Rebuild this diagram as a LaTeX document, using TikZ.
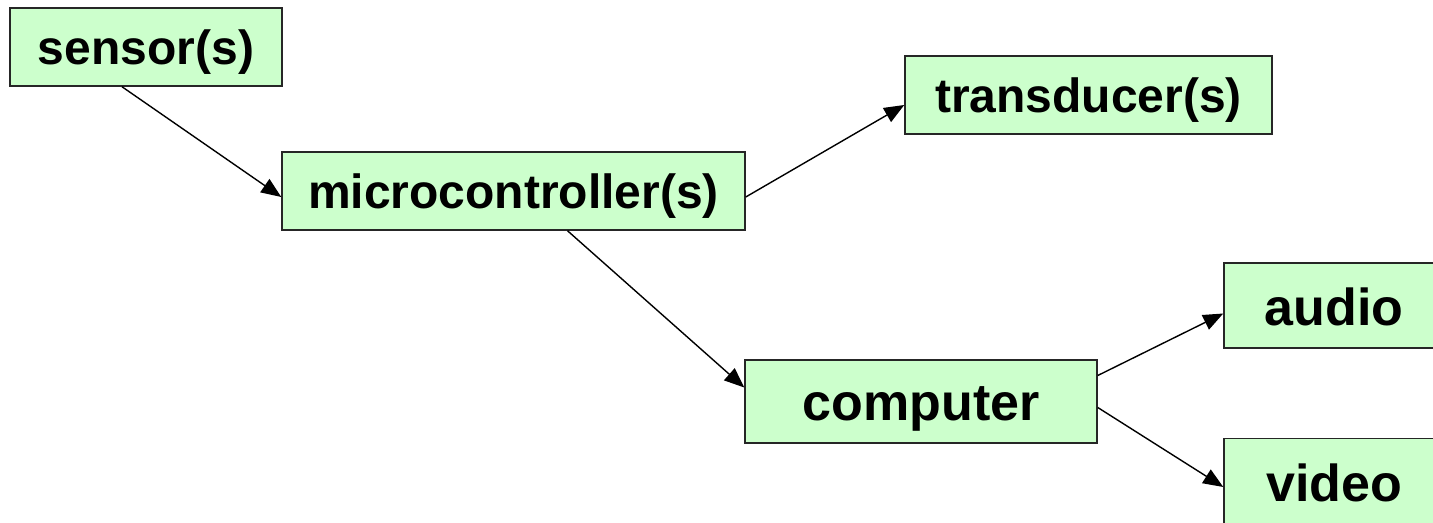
\documentclass[tikz,border=0pt]{standalone}
\usepackage{fontspec}
\setmainfont{Liberation Sans}
\usetikzlibrary{arrows.meta}
\definecolor{boxgreen}{HTML}{CCFFCC}
\begin{document}
\begin{tikzpicture}[x=0.5pt,y=-0.5pt,
  box/.style={draw=black!85,line width=0.75pt,fill=boxgreen,inner sep=0pt,
    font=\bfseries\fontsize{24}{28}\selectfont,text height=18pt,text depth=0pt},
  big/.style={font=\bfseries\fontsize{26}{30}\selectfont},
  conn/.style={draw=black,line width=0.7pt,-{Triangle[length=10pt,width=8pt]}}]
\useasboundingbox (0,0) rectangle (1433,523);
\node[box,minimum width=136pt,minimum height=39pt] (sensor) at (146,47) {sensor(s)};
\node[box,minimum width=231.5pt,minimum height=39pt] (micro) at (513.5,191) {microcontroller(s)};
\node[box,minimum width=183.5pt,minimum height=39pt] (trans) at (1088.5,95) {transducer(s)};
\node[box,big,text height=18.5pt,minimum width=176pt,minimum height=41.5pt] (comp) at (921,401.5) {computer};
\node[box,big,text height=20pt,minimum width=110pt,minimum height=42.5pt] (audio) at (1334,305.5) {audio};
\node[box,big,text height=20pt,minimum width=110pt,minimum height=42.5pt] (video) at (1334,481) {video};
\draw[conn] ([xshift=-12pt]sensor.south) -- ([yshift=-3pt]micro.west);
\draw[conn] ([yshift=-3pt]micro.east) -- ([yshift=-5pt]trans.west);
\draw[conn] ([xshift=27pt]micro.south) -- ([yshift=7pt]comp.west);
\draw[conn] ([yshift=13pt]comp.east) -- ([yshift=-4pt]audio.west);
\draw[conn] ([yshift=-3pt]comp.east) -- ([yshift=-3pt]video.west);
\end{tikzpicture}
\end{document}
